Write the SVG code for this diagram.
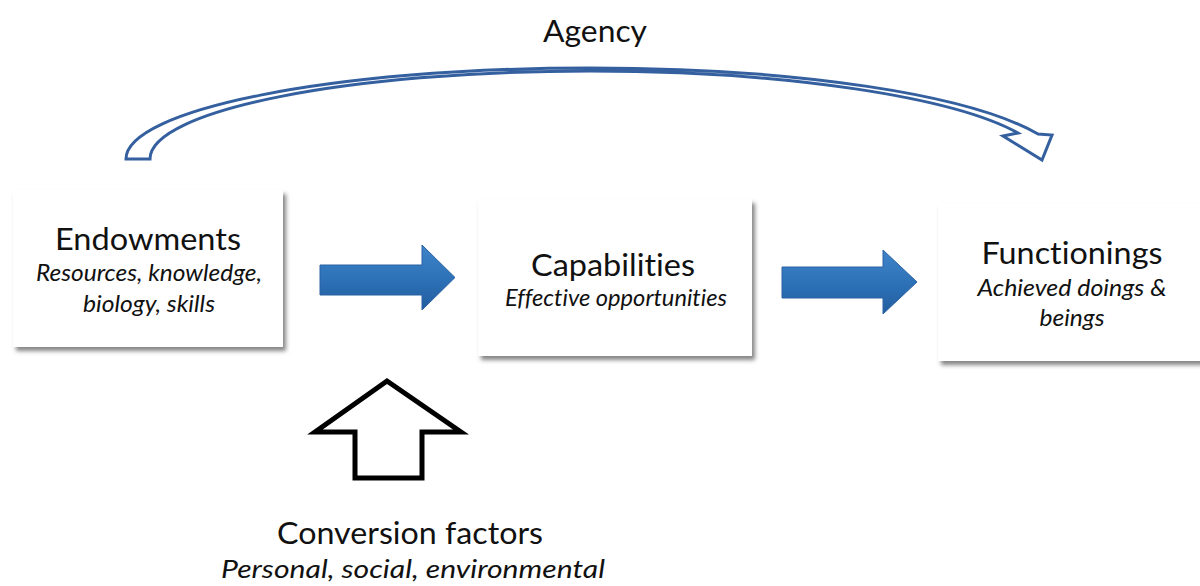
<svg xmlns="http://www.w3.org/2000/svg" width="1200" height="586" viewBox="0 0 1200 586">
<style>
text{font-variant-ligatures:none;font-feature-settings:"liga" 0}
.title{font-family:Lato,"Liberation Sans",sans-serif;font-size:31px;fill:#111;text-anchor:middle}
.sub{font-family:Lato,"Liberation Sans",sans-serif;font-style:italic;font-size:23px;fill:#111;text-anchor:middle}
.box{fill:#fff;filter:url(#sh)}
.blk{fill:url(#bg);stroke:#2a63a3;stroke-width:1}
</style>
<defs>
<filter id="sh" x="-10%" y="-10%" width="130%" height="130%">
<feDropShadow dx="3" dy="4" stdDeviation="2" flood-color="#666" flood-opacity="0.8"/>
</filter>
<linearGradient id="bg" x1="0" y1="0" x2="0" y2="1">
<stop offset="0" stop-color="#3f83c8"/>
<stop offset="0.5" stop-color="#2e72b8"/>
<stop offset="1" stop-color="#215d9e"/>
</linearGradient>
</defs>
<rect width="1200" height="586" fill="#fff"/>
<g id="endowments">
<rect class="box" x="13" y="190" width="270" height="157"/>
<text class="title" x="148" y="250" textLength="186" lengthAdjust="spacingAndGlyphs">Endowments</text>
<text class="sub" x="149" y="281" textLength="226" lengthAdjust="spacingAndGlyphs">Resources, knowledge,</text>
<text class="sub" x="149" y="312" textLength="132" lengthAdjust="spacingAndGlyphs">biology, skills</text>
</g>
<g id="capabilities">
<rect class="box" x="478" y="199" width="274" height="157"/>
<text class="title" x="613" y="276" textLength="164" lengthAdjust="spacingAndGlyphs">Capabilities</text>
<text class="sub" x="616" y="306" textLength="222" lengthAdjust="spacingAndGlyphs">Effective opportunities</text>
</g>
<g id="functionings">
<rect class="box" x="938" y="203" width="270" height="158"/>
<text class="title" x="1072" y="264" textLength="181" lengthAdjust="spacingAndGlyphs">Functionings</text>
<text class="sub" x="1072" y="296" textLength="189" lengthAdjust="spacingAndGlyphs">Achieved doings &amp;</text>
<text class="sub" x="1072" y="326" textLength="65" lengthAdjust="spacingAndGlyphs">beings</text>
</g>
<g id="agency">
<text class="title" x="595" y="42" textLength="104" lengthAdjust="spacingAndGlyphs">Agency</text>
</g>
<g id="conversion">
<text class="title" x="410" y="544" textLength="266" lengthAdjust="spacingAndGlyphs">Conversion factors</text>
<text class="sub" x="413" y="578" style="font-size:26px" textLength="384" lengthAdjust="spacingAndGlyphs">Personal, social, environmental</text>
</g>
<g id="connectors">
<path class="blk" d="M320,265 L422,265 L422,245 L455,277.5 L422,310 L422,295 L320,295 Z"/>
<path class="blk" d="M782,267 L883,267 L883,250 L917,282 L883,314 L883,298 L782,298 Z"/>
<path d="M387,381 L461,432 L422,432 L422,478 L355,478 L355,432 L315,432 Z" fill="#fff" stroke="#000" stroke-width="5" stroke-linejoin="miter"/>
<path d="M126,159 C126,110 330,68 590,68 C800,68 970,95 1038,134 L1052,135 L1042,160 L1003,136 L1018,133 C955,98 790,71 590,71 C350,71 150,110 150,159 Z" fill="#fff" stroke="#35609f" stroke-width="3" stroke-linejoin="miter"/>
</g>
</svg>
